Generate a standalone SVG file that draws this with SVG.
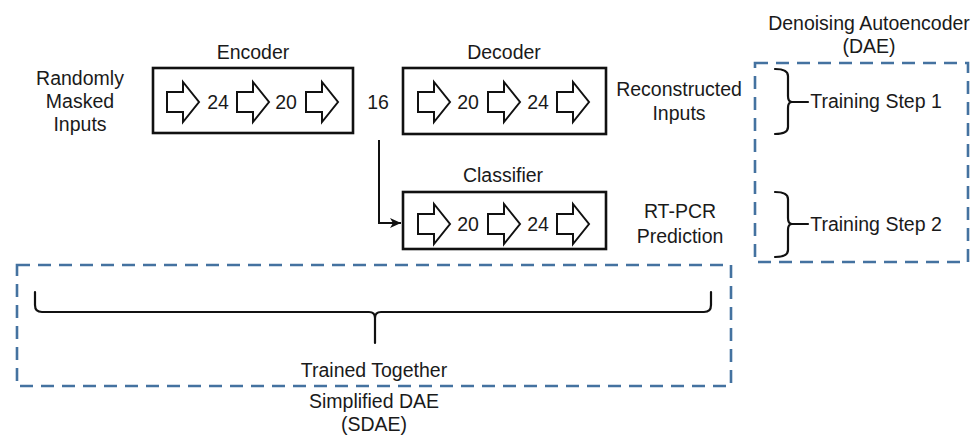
<svg xmlns="http://www.w3.org/2000/svg" width="974" height="435" viewBox="0 0 974 435">
<defs>
<style>
text{font-family:"Liberation Sans",Arial,sans-serif;font-size:19.5px;fill:#1a1a1a;text-anchor:middle}
.box{fill:none;stroke:#111;stroke-width:2.6}
.arr{fill:#fff;stroke:#111;stroke-width:2;stroke-linejoin:miter}
.dash{fill:none;stroke:#4472a0;stroke-width:2.6;stroke-dasharray:13 8}
.brace{fill:none;stroke:#111;stroke-width:2.2;stroke-linecap:round;stroke-linejoin:round}
.conn{fill:none;stroke:#111;stroke-width:2}
</style>
<path id="ar" class="arr" d="M0,-10 H16 V-20 L32,0 L16,20 V10 H0 Z"/>
<marker id="ah" markerWidth="14" markerHeight="12" refX="11" refY="6" orient="auto" markerUnits="userSpaceOnUse">
<path d="M0,1 L11,6 L0,11 L3,6 Z" fill="#111"/>
</marker>
</defs>
<rect width="974" height="435" fill="#fff"/>

<g id="groups">
<rect class="dash" x="755" y="63" width="213" height="199"/>
<rect class="dash" x="17" y="265" width="714" height="121"/>
</g>

<g id="input-label">
<text x="80" y="85">Randomly</text>
<text x="80" y="108">Masked</text>
<text x="80" y="131">Inputs</text>
</g>

<g id="encoder">
<text x="253" y="59">Encoder</text>
<rect class="box" x="153" y="68" width="200" height="65"/>
<use href="#ar" x="167" y="102"/>
<text x="218" y="109">24</text>
<use href="#ar" x="237" y="102"/>
<text x="286" y="109">20</text>
<use href="#ar" x="306" y="102"/>
</g>

<g id="latent">
<text x="378" y="109">16</text>
</g>

<g id="decoder">
<text x="504" y="59">Decoder</text>
<rect class="box" x="403" y="68" width="203" height="66"/>
<use href="#ar" x="418" y="102"/>
<text x="468" y="109">20</text>
<use href="#ar" x="488" y="102"/>
<text x="538" y="109">24</text>
<use href="#ar" x="557" y="102"/>
</g>

<g id="reconstructed-label">
<text x="679" y="96">Reconstructed</text>
<text x="679" y="120">Inputs</text>
</g>

<g id="classifier">
<text x="503" y="182">Classifier</text>
<rect class="box" x="403" y="192" width="203" height="57"/>
<use href="#ar" x="418" y="224"/>
<text x="468" y="231">20</text>
<use href="#ar" x="488" y="224"/>
<text x="538" y="231">24</text>
<use href="#ar" x="557" y="224"/>
</g>

<g id="prediction-label">
<text x="680" y="218">RT-PCR</text>
<text x="680" y="243">Prediction</text>
</g>

<g id="connectors">
<path class="conn" d="M379,140 V223 H401" marker-end="url(#ah)"/>
</g>

<g id="dae">
<text x="869" y="30">Denoising Autoencoder</text>
<text x="869" y="53">(DAE)</text>
<path class="brace" d="M775,69 Q788,69 788,76 V96 Q788,102 792,102 Q788,102 788,108 V127 Q788,134 775,134"/>
<line class="brace" x1="792" y1="102" x2="808" y2="102"/>
<text x="876" y="108">Training Step 1</text>
<path class="brace" d="M775,192 Q788,192 788,199 V218 Q788,224 792,224 Q788,224 788,230 V250 Q788,257 775,257"/>
<line class="brace" x1="792" y1="224" x2="808" y2="224"/>
<text x="876" y="231">Training Step 2</text>
</g>

<g id="sdae">
<path class="brace" d="M35,292 V305 Q35,312 42,312 H369 Q375,312 375,318 V343 M375,318 Q375,312 381,312 H704 Q711,312 711,305 V292"/>
<text x="374" y="377">Trained Together</text>
<text x="374" y="408">Simplified DAE</text>
<text x="374" y="431">(SDAE)</text>
</g>
</svg>
